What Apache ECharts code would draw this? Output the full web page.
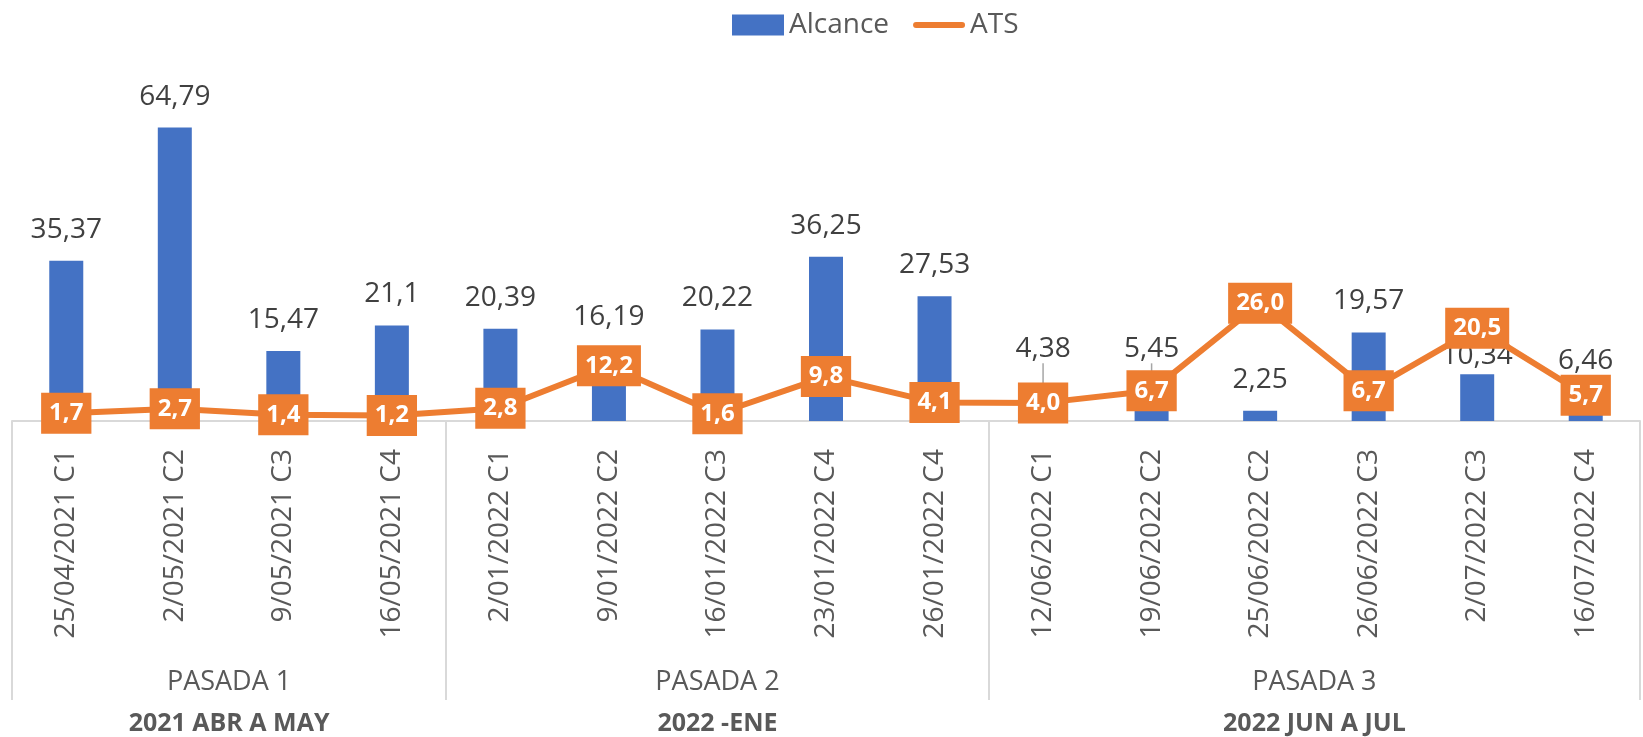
<!DOCTYPE html>
<html>
<head>
<meta charset="utf-8">
<script src="https://cdn.jsdelivr.net/npm/echarts@6/dist/echarts.min.js"></script>
<style>
	html, body { margin: 0; padding: 0; background: #fff; }
	#chart { width: 1643px; height: 737px; }
</style>
</head>
<body>
<div id="chart"></div>
<script>
	// data
	const dates = ['25/04/2021 C1', '2/05/2021 C2', '9/05/2021 C3', '16/05/2021 C4',
		'2/01/2022 C1', '9/01/2022 C2', '16/01/2022 C3', '23/01/2022 C4', '26/01/2022 C4',
		'12/06/2022 C1', '19/06/2022 C2', '25/06/2022 C2', '26/06/2022 C3', '2/07/2022 C3', '16/07/2022 C4'];
	const alcance = [35.37, 64.79, 15.47, 21.1, 20.39, 16.19, 20.22, 36.25, 27.53, 4.38, 5.45, 2.25, 19.57, 10.34, 6.46];
	const ats = [1.7, 2.7, 1.4, 1.2, 2.8, 12.2, 1.6, 9.8, 4.1, 4.0, 6.7, 26.0, 6.7, 20.5, 5.7];
	const pasadas = ['PASADA 1', 'PASADA 2', 'PASADA 3'];
	const periodos = ['2021 ABR A MAY', '2022 -ENE', '2022 JUN A JUL'];
	const groupSizes = [4, 5, 6];

	// group boundaries and centres (in category units)
	const starts = [];
	let acc = 0;
	groupSizes.forEach(n => { starts.push(acc); acc += n; });
	const bounds = starts.concat([acc]);
	const centers = starts.map((s, i) => s + groupSizes[i] / 2);

	const FONT = '"Open Sans", "Noto Sans", sans-serif';
	const comma = v => String(v).replace('.', ',');

	// labels Excel had moved by hand (px up, negative = down); some with a leader line
	const labelLift = { 9: 21, 10: 16, 13: -13 };
	const withLeader = [9, 10];

	const chart = echarts.init(document.getElementById('chart'));

	function groupAxis(names, offset, style) {
		return {
			type: 'value',
			position: 'bottom',
			min: 0,
			max: acc,
			interval: 0.5,
			offset: offset,
			axisLine: { show: false },
			axisTick: { show: false },
			splitLine: { show: false },
			axisLabel: Object.assign({
				margin: 0,
				fontFamily: FONT,
				color: '#595959',
				formatter: v => {
					const i = centers.indexOf(v);
					return i >= 0 ? names[i] : '';
				}
			}, style)
		};
	}

	const option = {
		animation: false,
		legend: {
			top: 6,
			left: 727,
			itemWidth: 52,
			itemHeight: 21,
			itemGap: 24,
			textStyle: { fontFamily: FONT, fontSize: 28, color: '#595959' },
			data: [
				{ name: 'Alcance', icon: 'rect' },
				{ name: 'ATS', icon: 'path://M3,0H49A3,3,0,0,1,49,6H3A3,3,0,0,1,3,0Z' }
			]
		},
		grid: { left: 12, width: 1635, top: 104, bottom: 316 },
		xAxis: [
			{
				type: 'category',
				data: dates,
				boundaryGap: true,
				axisLine: { lineStyle: { color: '#d9d9d9', width: 2 } },
				axisTick: {
					show: true,
					length: 279,
					interval: (i) => bounds.indexOf(i) >= 0,
					lineStyle: { color: '#d9d9d9', width: 2 }
				},
				axisLabel: {
					interval: 0,
					rotate: 90,
					margin: 28,
					fontFamily: FONT,
					fontSize: 28,
					color: '#595959'
				}
			},
			groupAxis(pasadas, 248, { fontSize: 27 }),
			groupAxis(periodos, 290, { fontSize: 25, fontWeight: 'bold' })
		],
		yAxis: {
			type: 'value',
			min: 0,
			max: 70,
			show: false
		},
		series: [
			{
				name: 'Alcance',
				type: 'bar',
				data: alcance.map((v, i) => withLeader.indexOf(i) >= 0 ? { value: v, labelLine: { show: true } } : v),
				barWidth: 34,
				itemStyle: { color: '#4472C4' },
				label: {
					show: true,
					position: 'top',
					distance: 17,
					fontFamily: FONT,
					fontSize: 28,
					color: '#404040',
					formatter: p => comma(p.value)
				},
				labelLine: { lineStyle: { color: '#a6a6a6', width: 1.5 } },
				labelLayout: p => {
					const d = labelLift[p.dataIndex];
					return d ? { dy: -d } : {};
				}
			},
			{
				name: 'ATS',
				type: 'line',
				data: ats,
				symbol: 'rect',
				symbolSize: 1,
				lineStyle: { color: '#ED7D31', width: 6 },
				itemStyle: { color: '#ED7D31' },
				z: 3,
				label: {
					show: true,
					position: 'inside',
					fontFamily: FONT,
					fontSize: 24,
					fontWeight: 'bold',
					color: '#fff',
					backgroundColor: '#ED7D31',
					padding: [7, 8, 6, 8],
					lineHeight: 28,
					formatter: p => p.value.toFixed(1).replace('.', ',')
				}
			}
		]
	};

	chart.setOption(option);
</script>
</body>
</html>
